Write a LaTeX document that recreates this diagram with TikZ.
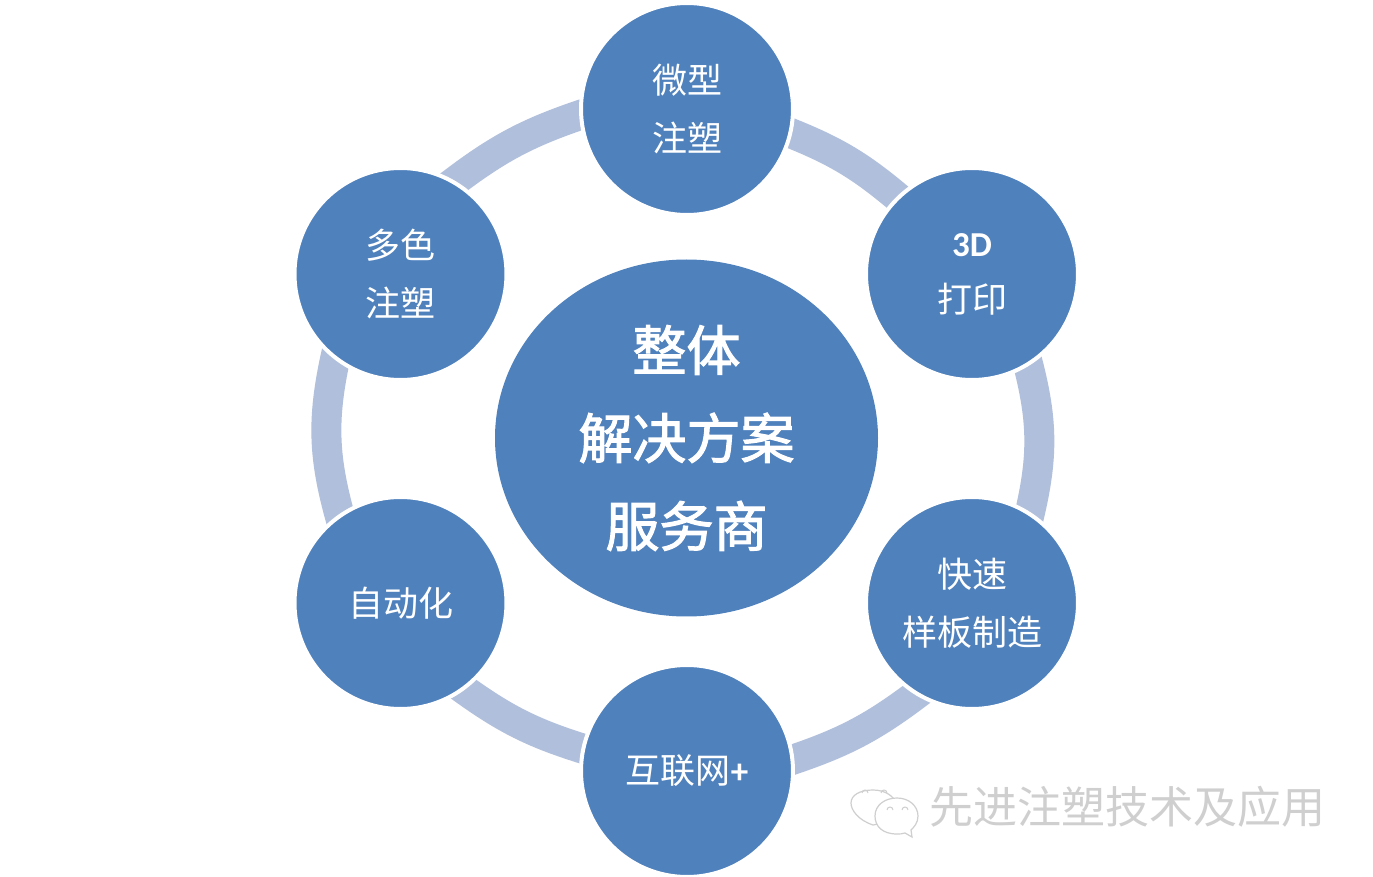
\documentclass[tikz,border=0pt]{standalone}
\usepackage{fontspec}
\setmainfont{Liberation Sans}
\newfontfamily\cjk{Noto Sans CJK SC}
\newfontfamily\cjkhub[FakeBold=2]{Noto Sans CJK SC}
\newfontfamily\latb[BoldFont={Carlito Bold}]{Carlito}
\usetikzlibrary{shapes.geometric,backgrounds}
\definecolor{nodeblue}{HTML}{4F81BD}
\definecolor{ringblue}{HTML}{B0BFDB}
\definecolor{markgray}{HTML}{CFCFCF}
\tikzset{
  spoke/.style={circle,fill=nodeblue,draw=white,line width=2pt,minimum size=106pt,inner sep=0pt,outer sep=0pt,text=white,align=center,font=\cjk\fontsize{17.5}{29}\selectfont},
  hub/.style={ellipse,fill=nodeblue,draw=none,minimum width=191.5pt,minimum height=178.5pt,inner xsep=0pt,inner ysep=-8pt,outer sep=0pt,text=white,align=center,font=\cjkhub\fontsize{27}{44}\selectfont},
  ringarc/.style={draw=ringblue,line width=15pt,shorten <=-8pt,shorten >=-8pt},
  bubble/.style={draw=markgray,line width=0.6pt,fill=white},
  eye/.style={draw=markgray,line width=0.5pt},
}
\begin{document}
\begin{tikzpicture}[x=0.5pt,y=-0.5pt]
\useasboundingbox (0,0) rectangle (1373,877);
\node[hub] (c) at (686.5,438) {整体\\解决方案\\服务商};
\node[spoke] (n1) at (687,109) {微型\\注塑};
\node[spoke] (n2) at (972,274) {{\latb\bfseries 3D}\\[-1pt]打印};
\node[spoke] (n3) at (972,603) {快速\\样板制造};
\node[spoke] (n4) at (687,771) {互联网{\latb\bfseries +}};
\node[spoke] (n5) at (400.5,603) {自动化};
\node[spoke] (n6) at (400.5,274) {多色\\注塑};
\begin{scope}[on background layer]
\fill[white] (0,0) rectangle (1373,877);
\draw[ringarc] (n1.-13.5) to[bend left=10] (n2.134);
\draw[ringarc] (n2.-58.4) to[bend left=15] (n3.57.5);
\draw[ringarc] (n3.-121.4) to[bend left=10] (n4.6);
\draw[ringarc] (n4.168.7) to[bend left=10] (n5.-54);
\draw[ringarc] (n5.125) to[bend left=15] (n6.-128);
\draw[ringarc] (n6.60) to[bend left=10] (n1.183);
\end{scope}
% watermark
\draw[bubble] (873,825) .. controls (858,820) and (851,810) .. (851,803) .. controls (851,795) and (860,790) .. (873,790) .. controls (885,790) and (895,796) .. (897,806) .. controls (897,816) and (888,823) .. (873,825) -- cycle;
\draw[bubble] (897,834) .. controls (882,834) and (875,826) .. (875,816) .. controls (875,805) and (885,798) .. (897,798) .. controls (909,798) and (918,806) .. (918,816) .. controls (918,823) and (914,827) .. (911,830) -- (912,837) -- (905,833) .. controls (902,834) and (900,834) .. (897,834) -- cycle;
\draw[eye] (862,793) arc (180:360:3);
\draw[eye] (881,793) arc (180:360:3);
\draw[eye] (887,810) arc (180:360:3);
\draw[eye] (902,810) arc (180:360:3);
\node[text=markgray,font=\cjk\fontsize{22}{24}\selectfont,inner sep=0pt] (wm) at (1127,807) {先进注塑技术及应用};
\end{tikzpicture}
\end{document}
